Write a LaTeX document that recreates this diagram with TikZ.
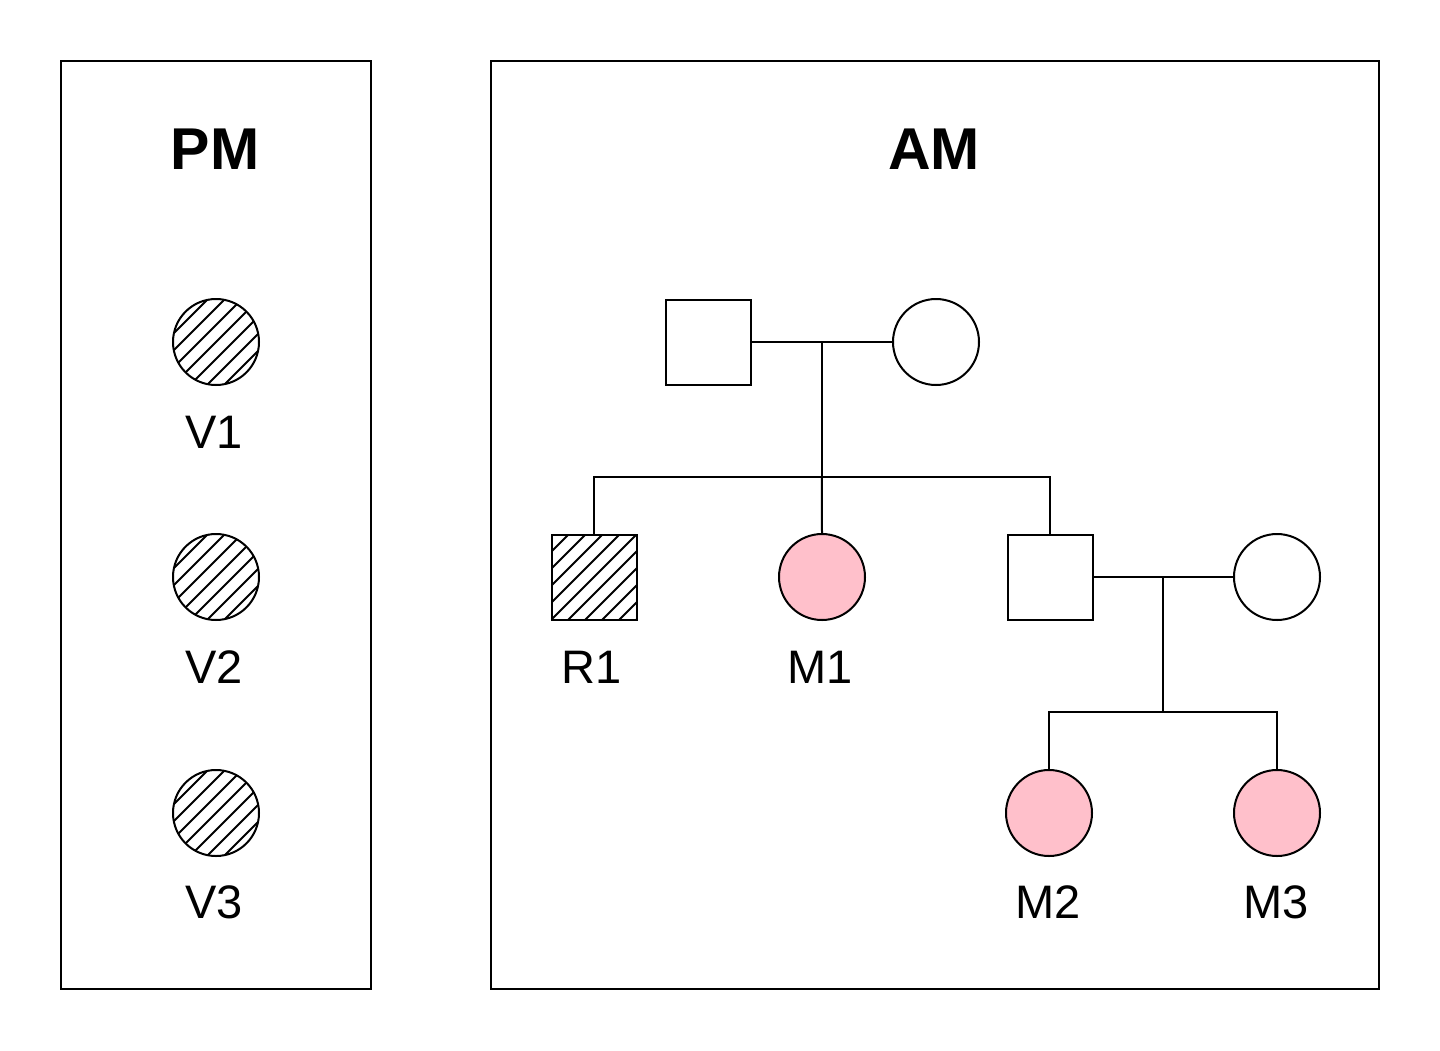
\documentclass[tikz,border=0pt]{standalone}
\usepackage{fontspec}
\setmainfont{Liberation Sans}
\usetikzlibrary{calc}
\definecolor{pinkfill}{HTML}{FFC0CB}
\begin{document}
\begin{tikzpicture}[x=1pt,y=-1pt,
  every path/.style={line width=2pt},
  panel/.style={draw,line width=2pt},
  male/.style={draw,line width=2pt,rectangle,minimum size=85pt,inner sep=0pt},
  female/.style={draw,line width=2pt,circle,minimum size=86pt,inner sep=0pt},
  hatched/.style={path picture={
    \foreach \k in {-6,...,6}
      \draw[line width=1.8pt] ([shift={(\k*17-60,60)}]path picture bounding box.center) -- ++(120,-120);}},
  affected/.style={fill=pinkfill},
  lbl/.style={font=\fontsize{47}{50}\selectfont,inner sep=0pt,anchor=base},
  ttl/.style={font=\fontsize{59}{62}\selectfont\bfseries,inner sep=0pt,anchor=base},
  link/.style={draw,line width=2pt}]
\useasboundingbox (0,0) rectangle (1440,1050);
\fill[white] (0,0) rectangle (1440,1050);
% panels
\draw[panel] (61,61) rectangle (371,989);
\draw[panel] (491,61) rectangle (1379,989);
\node[ttl] (pm) at (215,169) {PM};
\node[ttl] (am) at (934,169) {AM};
% PM
\node[female,hatched] (v1) at (216,342) {};
\node[female,hatched] (v2) at (216,577) {};
\node[female,hatched] (v3) at (216,813) {};
\node[lbl] (lv1) at (214,448) {V1};
\node[lbl] (lv2) at (214,683) {V2};
\node[lbl] (lv3) at (214,918) {V3};
% AM generation 1
\node[male] (f1) at (708,342) {};
\node[female] (f2) at (936,342) {};
% generation 2
\node[male,hatched] (r1) at (594,577) {};
\node[female,affected] (m1) at (822,577) {};
\node[male] (s2) at (1050,577) {};
\node[female] (w2) at (1277,577) {};
\node[lbl] (lr1) at (592,683) {R1};
\node[lbl] (lm1) at (820,683) {M1};
% generation 3
\node[female,affected] (m2) at (1049,813) {};
\node[female,affected] (m3) at (1277,813) {};
\node[lbl] (lm2) at (1048,918) {M2};
\node[lbl] (lm3) at (1276,918) {M3};
% couple 1
\draw[link] (f1.east) -- (f2.west);
\coordinate (mid1) at ($(f1.east)!0.5!(f2.west)$);
\coordinate (sib1) at (mid1 |- 0,477);
\draw[link] (mid1) -- (sib1);
\draw[link] (r1.north) -- (r1.north |- sib1) -- (s2.north |- sib1) -- (s2.north);
\draw[link] (sib1) -- (m1.north);
% couple 2
\draw[link] (s2.east) -- (w2.west);
\coordinate (mid2) at ($(s2.east)!0.5!(w2.west)$);
\coordinate (sib2) at (mid2 |- 0,712);
\draw[link] (mid2) -- (sib2);
\draw[link] (m2.north) -- (m2.north |- sib2) -- (m3.north |- sib2) -- (m3.north);
\end{tikzpicture}
\end{document}
